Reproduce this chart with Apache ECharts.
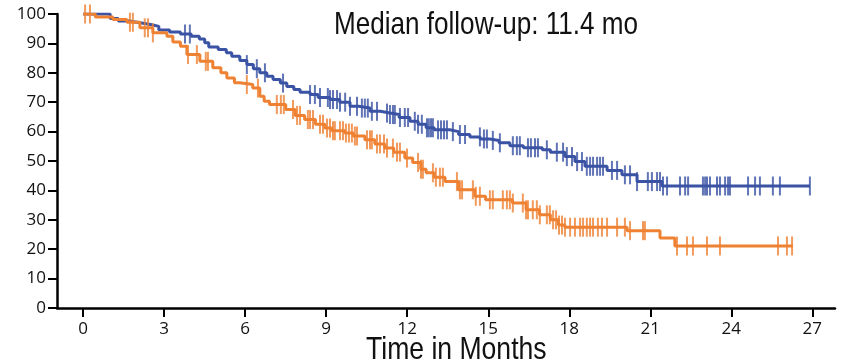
<!DOCTYPE html>
<html>
<head>
<meta charset="utf-8">
<script src="https://cdn.jsdelivr.net/npm/echarts@6/dist/echarts.min.js"></script>
<style>html,body{margin:0;padding:0;background:#fff}#c{width:842px;height:362px}</style>
</head>
<body>
<div id="c"></div>
<script>
// Tick labels
var xTicks = [0, 3, 6, 9, 12, 15, 18, 21, 24, 27];
var titleText = 'Median follow-up: 11.4 mo';
var xTitle = 'Time in Months';

// Blue arm: step times (months) and survival (%)
var blueT = [0, 1.0, 1.3, 1.7, 2.1, 2.5, 2.8, 3.2, 3.6, 4.0, 4.3, 4.5, 4.65, 5.0, 5.3, 5.5, 5.8, 6.06, 6.3, 6.54, 6.8, 7.03, 7.3, 7.54, 7.8, 8.03, 8.4, 8.7, 9.14, 9.5, 9.88, 10.2, 10.62, 11.0, 11.36, 11.7, 12.1, 12.4, 12.7, 13.0, 13.58, 13.9, 14.32, 14.7, 15.06, 15.4, 15.8, 16.3, 17.0, 17.3, 17.84, 18.21, 18.58, 19.40, 19.95, 20.51, 21.43, 26.91];
var blueS = [100, 98.5, 97.6, 97.0, 96.4, 95.8, 94.6, 93.9, 93.2, 92.4, 91.5, 90.2, 88.8, 87.9, 86.8, 85.6, 84.2, 82.8, 81.4, 80.0, 78.8, 77.7, 76.5, 75.3, 74.3, 73.4, 72.6, 71.6, 70.9, 70.0, 68.6, 68.0, 66.9, 66.3, 65.8, 64.8, 63.5, 62.5, 61.3, 60.6, 60.0, 59.0, 58.2, 57.5, 57.0, 56.2, 55.2, 54.5, 53.8, 53.0, 51.5, 49.8, 48.2, 46.8, 45.3, 43.0, 41.5, 41.5];
var blueCensor = [3.77, 3.95, 6.06, 6.43, 6.73, 7.40, 8.40, 8.58, 8.77, 9.06, 9.14, 9.25, 9.40, 9.51, 9.70, 9.88, 10.14, 10.32, 10.43, 10.54, 10.69, 10.88, 11.25, 11.36, 11.47, 11.54, 11.73, 11.91, 12.03, 12.28, 12.40, 12.54, 12.73, 12.80, 12.88, 12.95, 13.14, 13.25, 13.36, 13.47, 13.69, 13.95, 14.14, 14.69, 14.84, 14.95, 15.17, 15.43, 15.91, 16.06, 16.17, 16.47, 16.58, 16.73, 16.84, 17.17, 17.54, 17.77, 17.91, 18.10, 18.29, 18.47, 18.65, 18.77, 18.88, 19.03, 19.14, 19.25, 19.58, 19.77, 20.06, 20.25, 20.51, 20.91, 21.06, 21.25, 21.36, 21.47, 21.62, 22.10, 22.29, 22.40, 22.95, 23.03, 23.10, 23.21, 23.47, 23.58, 23.77, 23.88, 23.95, 24.62, 24.88, 25.06, 25.54, 25.80, 26.91];

// Orange arm
var orangeT = [0, 0.45, 1.1, 1.62, 2.1, 2.58, 3.1, 3.32, 3.6, 3.84, 4.32, 4.8, 5.1, 5.32, 5.6, 5.8, 6.28, 6.54, 6.7, 6.9, 7.5, 7.85, 8.2, 8.6, 8.95, 9.2, 9.69, 10.0, 10.43, 10.8, 11.17, 11.5, 11.91, 12.2, 12.5, 12.7, 13.0, 13.4, 13.9, 14.5, 14.9, 15.9, 16.4, 16.9, 17.3, 17.6, 17.84, 20.14, 21.36, 21.91, 26.28];
var orangeS = [100, 99.0, 98.1, 97.2, 95.3, 93.6, 92.4, 90.5, 89.0, 86.2, 83.9, 81.7, 80.0, 78.2, 76.6, 76.0, 74.8, 72.0, 70.3, 69.2, 67.5, 65.5, 64.1, 62.5, 61.2, 60.3, 59.5, 58.5, 57.2, 55.8, 54.4, 53.0, 51.0, 49.5, 47.2, 46.0, 44.5, 43.0, 40.2, 38.0, 36.8, 35.7, 33.4, 31.7, 30.0, 28.2, 27.5, 26.3, 23.8, 21.1, 21.1];
var orangeCensor = [0.07, 0.25, 1.73, 1.84, 2.28, 2.40, 2.58, 3.88, 4.21, 4.54, 4.62, 6.06, 6.47, 7.17, 7.32, 7.43, 7.77, 7.92, 8.03, 8.32, 8.40, 8.51, 8.77, 8.88, 9.03, 9.14, 9.25, 9.32, 9.51, 9.62, 9.73, 9.84, 9.95, 10.06, 10.14, 10.51, 10.62, 10.69, 10.88, 10.99, 11.14, 11.25, 11.47, 11.62, 11.73, 11.99, 12.40, 12.51, 12.58, 12.95, 13.06, 13.21, 13.32, 13.84, 13.95, 14.03, 14.43, 14.54, 14.69, 15.06, 15.17, 15.54, 15.69, 15.80, 15.91, 16.28, 16.40, 16.47, 16.65, 16.80, 16.91, 17.17, 17.28, 17.40, 17.51, 17.62, 17.73, 17.84, 18.03, 18.21, 18.40, 18.51, 18.65, 18.77, 18.88, 19.06, 19.21, 19.40, 19.77, 20.06, 20.25, 20.73, 20.80, 21.99, 22.36, 22.58, 23.10, 23.58, 25.73, 26.06, 26.25];

var BLUE = '#3a53a4';
var ORANGE = '#ef8132';

function pairs(t, s) { return t.map(function (v, i) { return [v, s[i]]; }); }
function survAt(t, s, x) {
  var v = s[0];
  for (var i = 0; i < t.length; i++) { if (t[i] <= x + 1e-9) v = s[i]; else break; }
  return v;
}
function censorPts(c, t, s) { return c.map(function (x) { return [x, survAt(t, s, x)]; }); }

var chart = echarts.init(document.getElementById('c'), null, { renderer: 'canvas' });
var labelFont = { fontFamily: 'Open Sans', fontSize: 17, color: '#111' };
var narrow = 'normal 32px "Liberation Sans", Arial, sans-serif';
chart.setOption({
  animation: false,
  backgroundColor: '#fff',
  grid: { left: 57, right: 7, top: 14, bottom: 54, containLabel: false },
  graphic: [
    { type: 'text', x: 334, y: 9, scaleX: 0.815, z: 10,
      style: { text: titleText, font: narrow, fill: '#111', verticalAlign: 'top' } },
    { type: 'text', x: 366, y: 334, scaleX: 0.83, z: 10,
      style: { text: xTitle, font: narrow, fill: '#111', verticalAlign: 'top' } }
  ],
  xAxis: {
    type: 'value', min: -0.97, max: 27.84,
    axisLine: { show: true, onZero: false, lineStyle: { color: '#000', width: 2.5 } },
    axisTick: { show: true, customValues: xTicks, length: 9, lineStyle: { color: '#000', width: 2 } },
    axisLabel: { customValues: xTicks, margin: 13, fontFamily: labelFont.fontFamily, fontSize: labelFont.fontSize, color: labelFont.color },
    splitLine: { show: false }
  },
  yAxis: {
    type: 'value', min: 0, max: 100, interval: 10,
    axisLine: { show: true, onZero: false, lineStyle: { color: '#000', width: 2.5 } },
    axisTick: { show: true, length: 9, lineStyle: { color: '#000', width: 2 } },
    axisLabel: { margin: 11, fontFamily: labelFont.fontFamily, fontSize: labelFont.fontSize, color: labelFont.color },
    splitLine: { show: false }
  },
  series: [
    { type: 'line', step: 'end', data: pairs(blueT, blueS), symbol: 'none',
      lineStyle: { color: BLUE, width: 3 }, z: 3 },
    { type: 'line', step: 'end', data: pairs(orangeT, orangeS), symbol: 'none',
      lineStyle: { color: ORANGE, width: 3 }, z: 3 },
    { type: 'scatter', data: censorPts(blueCensor, blueT, blueS), symbol: 'rect', symbolSize: [2, 19],
      itemStyle: { color: BLUE }, z: 4 },
    { type: 'scatter', data: censorPts(orangeCensor, orangeT, orangeS), symbol: 'rect', symbolSize: [2, 19],
      itemStyle: { color: ORANGE }, z: 4 }
  ]
});
</script>
</body>
</html>
